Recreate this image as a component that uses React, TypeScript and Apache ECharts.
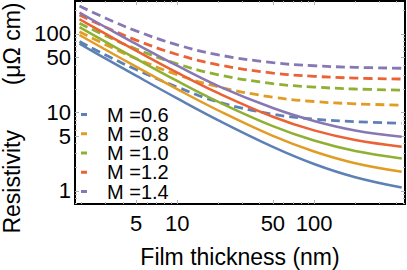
import React, { useEffect, useRef } from "react";
import * as echarts from "echarts";

const thickness = [1.93, 3, 5, 10, 20, 50, 100, 200, 437];
const mLabels = ["M =0.6", "M =0.8", "M =1.0", "M =1.2", "M =1.4"];
const colors = ["#5E81B5", "#E19C24", "#8FB032", "#EB6235", "#8778B3"];

// solid curves
const solid06 = [75, 48.5, 29.4, 15.1, 7.95, 3.65, 2.21, 1.5, 1.11];
const solid08 = [97, 62.9, 38.3, 19.8, 10.6, 5.03, 3.19, 2.26, 1.76];
const solid10 = [122, 79.2, 48.4, 25.2, 13.65, 6.7, 4.39, 3.23, 2.6];
const solid12 = [154, 100.1, 61.3, 32.1, 17.6, 8.83, 5.91, 4.46, 3.67];
const solid14 = [187, 121.8, 74.7, 39.4, 21.7, 11.4, 7.8, 5.9, 4.9];
// dashed curves
const dashed06 = [80, 54.0, 35.2, 21.1, 13.6, 9.5, 8.25, 7.65, 7.3];
const dashed08 = [107, 73.1, 48.7, 30.3, 21.2, 15.65, 13.8, 12.9, 12.4];
const dashed10 = [137, 94.9, 64.4, 41.6, 30.2, 23.3, 21.1, 19.9, 19.3];
const dashed12 = [175, 121.8, 83.5, 54.8, 40.4, 31.8, 28.9, 27.4, 26.7];
const dashed14 = [227, 158.8, 109.6, 72.7, 54.2, 43.1, 39.4, 37.6, 36.6];

const xMajorTicks = [5, 10, 50, 100];
const xMinorTicks = [2, 3, 4, 6, 7, 8, 9, 20, 30, 40, 60, 70, 80, 90, 200, 300, 400];
const yMajorTicks = [1, 5, 10, 50, 100];
const yMinorTicks = [0.7, 0.8, 0.9, 2, 3, 4, 6, 7, 8, 9, 20, 30, 40, 60, 70, 80, 90, 200];

const solidSets = [solid06, solid08, solid10, solid12, solid14];
const dashedSets = [dashed06, dashed08, dashed10, dashed12, dashed14];

const FONT = "Liberation Sans, Arial, sans-serif";
const X_MIN = 1.79;
const X_MAX = 462;
const Y_MIN = 0.683;
const Y_MAX = 263;

function makeAxis(
  kind: "x" | "y",
  position: string,
  ticks: number[],
  len: number,
  showLabel: boolean
) {
  return {
    type: "log",
    logBase: 10,
    position,
    min: kind === "x" ? X_MIN : Y_MIN,
    max: kind === "x" ? X_MAX : Y_MAX,
    axisLine: { show: false },
    splitLine: { show: false },
    minorTick: { show: false },
    axisTick: {
      show: true,
      inside: true,
      length: len,
      customValues: ticks,
      lineStyle: { color: "#b0b0b0", width: 1 },
    },
    axisLabel: {
      show: showLabel,
      customValues: ticks,
      color: "#000",
      fontSize: 22,
      fontFamily: FONT,
      margin: kind === "x" ? 8 : 4,
      formatter: (v: number) => String(v),
    },
  };
}

export default function App() {
  const ref = useRef<HTMLDivElement>(null);
  useEffect(() => {
    if (!ref.current) return;
    const chart = echarts.init(ref.current, undefined, { renderer: "svg" });
    const series: any[] = [];
    solidSets.forEach((vals, i) => {
      series.push({
        name: "solid " + mLabels[i],
        type: "line",
        xAxisIndex: 0,
        yAxisIndex: 0,
        data: thickness.map((d, k) => [d, vals[k]]),
        showSymbol: false,
        smooth: 0.4,
        lineStyle: { color: colors[i], width: 2.5 },
        itemStyle: { color: colors[i] },
        z: 3,
      });
    });
    dashedSets.forEach((vals, i) => {
      series.push({
        name: mLabels[i],
        type: "line",
        xAxisIndex: 0,
        yAxisIndex: 0,
        data: thickness.map((d, k) => [d, vals[k]]),
        showSymbol: false,
        smooth: 0.4,
        lineStyle: { color: colors[i], width: 2.8, type: [9, 5] },
        itemStyle: { color: colors[i] },
        z: 2,
      });
    });
    const legends = mLabels.map((name, i) => ({
      data: [name],
      orient: "vertical",
      left: 81,
      top: 104.5 + i * 19.25,
      padding: 0,
      itemWidth: 6,
      itemHeight: 3,
      icon: "rect",
      selectedMode: false,
      formatter: "{a|{name}}",
      textStyle: {
        color: "#000",
        fontSize: 19,
        fontFamily: FONT,
        rich: {
          a: {
            fontSize: 20,
            fontFamily: FONT,
            color: "#000",
            padding: [0, 0, 0, 15],
          },
        },
      },
    }));
    chart.setOption({
      animation: false,
      grid: {
        left: 75,
        right: 2,
        top: 1,
        bottom: 66,
        show: true,
        borderColor: "#000",
        borderWidth: 2,
        backgroundColor: "transparent",
      },
      xAxis: [
        makeAxis("x", "bottom", xMajorTicks, 4, true),
        makeAxis("x", "bottom", xMinorTicks, 2, false),
        makeAxis("x", "top", xMajorTicks, 4, false),
        makeAxis("x", "top", xMinorTicks, 2, false),
      ],
      yAxis: [
        makeAxis("y", "left", yMajorTicks, 4, true),
        makeAxis("y", "left", yMinorTicks, 2, false),
        makeAxis("y", "right", yMajorTicks, 4, false),
        makeAxis("y", "right", yMinorTicks, 2, false),
      ],
      legend: legends,
      graphic: [
        {
          type: "text",
          x: 12,
          y: 118,
          rotation: Math.PI / 2,
          style: {
            text: "Resistivity       (μΩ cm)",
            fontSize: 23,
            fontFamily: FONT,
            fill: "#000",
            align: "center",
            verticalAlign: "middle",
          },
        },
        {
          type: "text",
          x: 240,
          y: 257,
          style: {
            text: "Film thickness (nm)",
            fontSize: 23,
            fontFamily: FONT,
            fill: "#000",
            align: "center",
            verticalAlign: "middle",
          },
        },
      ],
      series,
    });
    return () => chart.dispose();
  }, []);
  return (
    <div
      ref={ref}
      style={{ position: "fixed", left: 0, top: 0, width: 407, height: 270, background: "#fff" }}
    />
  );
}
